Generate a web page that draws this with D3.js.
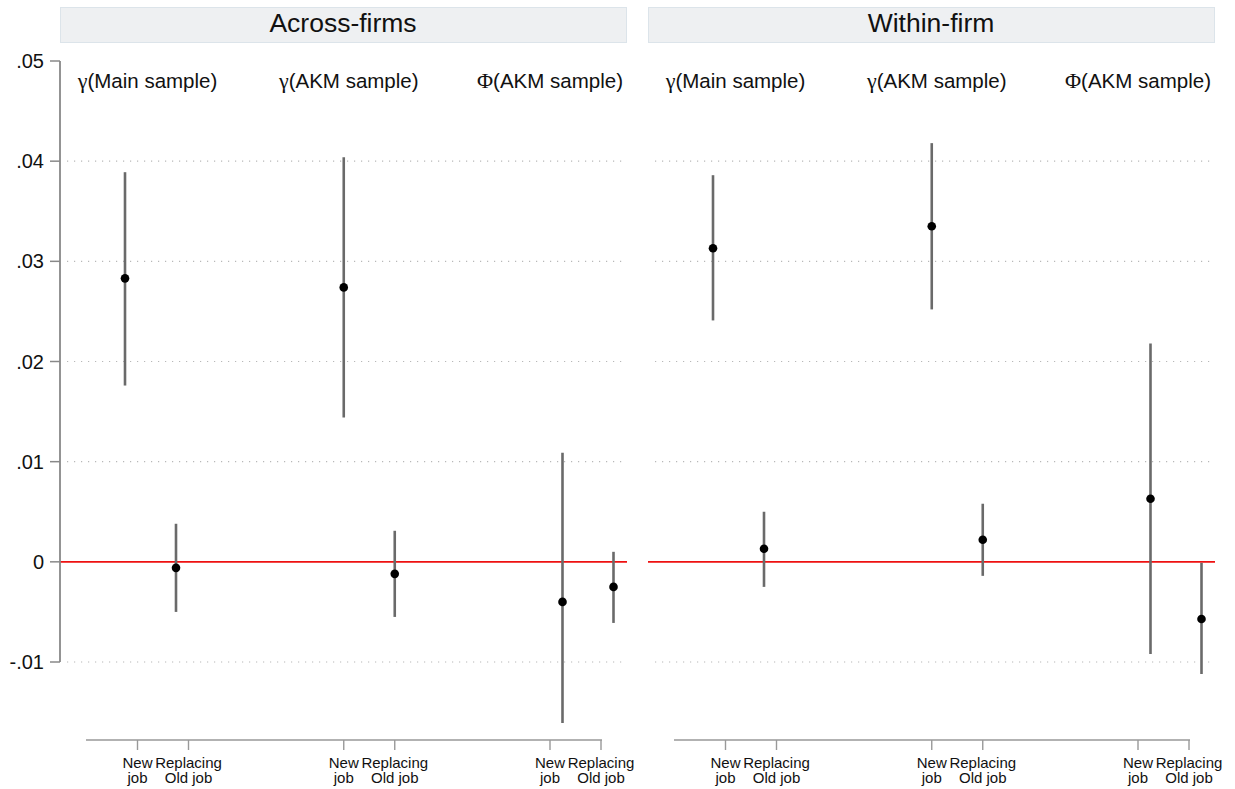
<!DOCTYPE html>
<html><head><meta charset="utf-8">
<script src="https://cdn.jsdelivr.net/npm/d3@7"></script>
<style>body{margin:0;background:#fff}</style>
</head><body>
<svg id="c" width="1235" height="789"></svg>
<script>
const panels = ["Across-firms", "Within-firm"];
const groups = ["γ|(Main sample)", "γ|(AKM sample)", "Φ|(AKM sample)"];
const types = ["New|job", "Replacing|Old job"];
const yTicks = [-0.01, 0, 0.01, 0.02, 0.03, 0.04, 0.05];
const yTickLabels = ["-.01", "0", ".01", ".02", ".03", ".04", ".05"];
const gridTicks = [-0.01, 0.01, 0.02, 0.03, 0.04];
// order: [g0 new, g0 repl, g1 new, g1 repl, g2 new, g2 repl]
const acrossEst = [0.0283, -0.0006, 0.0274, -0.0012, -0.0040, -0.0025];
const acrossLo  = [0.0176, -0.0050, 0.0144, -0.0055, -0.0161, -0.0061];
const acrossHi  = [0.0389, 0.0038, 0.0404, 0.0031, 0.0109, 0.0010];
const withinEst = [0.0313, 0.0013, 0.0335, 0.0022, 0.0063, -0.0057];
const withinLo  = [0.0241, -0.0025, 0.0252, -0.0014, -0.0092, -0.0112];
const withinHi  = [0.0386, 0.0050, 0.0418, 0.0058, 0.0218, -0.0001];

const svg = d3.select("#c");
const y = d3.scaleLinear().domain([-0.01, 0.05]).range([662, 61]);
const panelX = d3.scalePoint().domain(panels).range([60, 648]);
const panelW = 566;
const xPoint = d3.scalePoint().domain(groups).range([90.5, 528]);
const xTick = d3.scalePoint().domain(groups).range([103, 515.5]);
const xLab = d3.scalePoint().domain(groups).range([87.5, 490]);
const tOff = d3.scalePoint().domain(types).range([-25.5, 25.5]);

const panelData = [
  {est: acrossEst, lo: acrossLo, hi: acrossHi},
  {est: withinEst, lo: withinLo, hi: withinHi}
];

panels.forEach((p, pi) => {
  const x0 = panelX(p);
  const g = svg.append("g").attr("transform", `translate(${x0},0)`);
  // header
  g.append("rect").attr("x", 0.5).attr("y", 7.5).attr("width", panelW).attr("height", 35)
    .attr("fill", "#eef0f2").attr("stroke", "#dce4ea").attr("stroke-width", 1);
  g.append("text").attr("x", panelW / 2).attr("y", 32).attr("text-anchor", "middle")
    .attr("font-family", "Liberation Sans, Arial, sans-serif").attr("font-size", 26.5)
    .attr("fill", "#111").text(p);
  // gridlines
  g.selectAll(".grid").data(gridTicks).join("line")
    .attr("x1", 7).attr("x2", panelW).attr("y1", d => y(d)).attr("y2", d => y(d))
    .attr("stroke", "#b8b8b8").attr("stroke-width", 1.2).attr("stroke-dasharray", "1.2,5.8");
  // zero line
  g.append("line").attr("x1", 0).attr("x2", panelW + 1).attr("y1", y(0)).attr("y2", y(0))
    .attr("stroke", "#ee1111").attr("stroke-width", 1.8);
  // group labels
  groups.forEach(gr => {
    const [sym, rest] = gr.split("|");
    const t = g.append("text").attr("x", xLab(gr)).attr("y", 88).attr("text-anchor", "middle")
      .attr("font-family", "Liberation Sans, Arial, sans-serif").attr("font-size", 20.5).attr("fill", "#111");
    t.append("tspan").attr("font-family", "Liberation Serif, Times New Roman, serif").attr("font-size", 22).text(sym);
    t.append("tspan").text(rest);
  });
  // x axis
  const ax = g.append("g");
  ax.append("line").attr("x1", 26).attr("x2", xTick(groups[2]) + tOff(types[1]) + 1)
    .attr("y1", 740).attr("y2", 740).attr("stroke", "#999").attr("stroke-width", 1.6);
  groups.forEach(gr => {
    types.forEach(tp => {
      const tx = xTick(gr) + tOff(tp);
      ax.append("line").attr("x1", tx).attr("x2", tx).attr("y1", 740).attr("y2", 750)
        .attr("stroke", "#999").attr("stroke-width", 1.4);
      const [l1, l2] = tp.split("|");
      const tt = ax.append("text").attr("text-anchor", "middle")
        .attr("font-family", "Liberation Sans Narrow, Liberation Sans, Arial, sans-serif")
        .attr("font-size", 15).attr("fill", "#111");
      tt.append("tspan").attr("x", tx).attr("y", 768).text(l1);
      tt.append("tspan").attr("x", tx).attr("y", 783).text(l2);
    });
  });
  // points
  const d = panelData[pi];
  const pts = [];
  groups.forEach((gr, gi) => types.forEach((tp, ti) => {
    const k = gi * 2 + ti;
    pts.push({x: xPoint(gr) + tOff(tp), est: d.est[k], lo: d.lo[k], hi: d.hi[k]});
  }));
  g.selectAll(".ci").data(pts).join("line")
    .attr("x1", q => q.x).attr("x2", q => q.x).attr("y1", q => y(q.lo)).attr("y2", q => y(q.hi))
    .attr("stroke", "#6a6a6a").attr("stroke-width", 2.6);
  g.selectAll(".pt").data(pts).join("circle")
    .attr("cx", q => q.x).attr("cy", q => y(q.est)).attr("r", 4.3).attr("fill", "#000");
});

// y axis (left panel only)
const yAx = svg.append("g");
yAx.append("line").attr("x1", 60).attr("x2", 60).attr("y1", y(0.05)).attr("y2", y(-0.01))
  .attr("stroke", "#888").attr("stroke-width", 1.8);
yAx.selectAll(".tk").data(yTicks).join("line")
  .attr("x1", 50).attr("x2", 60).attr("y1", d => y(d)).attr("y2", d => y(d))
  .attr("stroke", "#888").attr("stroke-width", 1.5);
yAx.selectAll(".tl").data(yTicks).join("text")
  .attr("x", 44).attr("y", d => y(d) + 7).attr("text-anchor", "end")
  .attr("font-family", "Liberation Sans, Arial, sans-serif").attr("font-size", 20).attr("fill", "#111")
  .text((d, i) => yTickLabels[i]);
</script>
</body></html>
